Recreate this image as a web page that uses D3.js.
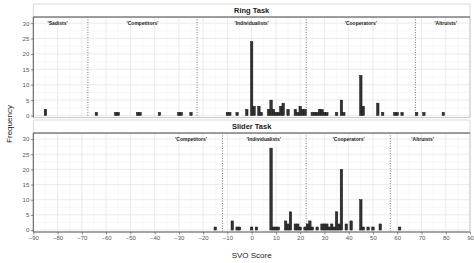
<!DOCTYPE html>
<html><head><meta charset="utf-8">
<script src="https://cdn.jsdelivr.net/npm/d3@7"></script>
<style>body{margin:0;background:#fff}svg{display:block;font-family:"Liberation Sans",Arial,sans-serif}</style>
</head><body><svg id="c" width="474" height="263"></svg>
<script>
// ---- data ----
const panels = ["Ring Task", "Slider Task"];
const ringScores = [-85,-64,-56,-55,-47,-46,-38,-30,-29,-25,-10,-9,-6,-2,0,1,3,4,7,8,9,10,11,12,13,15,18,19,20,21,22,25,26,27,28,29,30,31,35,37,38,45,46,52,54,59,60,62,68,71,79];
const ringCounts = [2,1,1,1,1,1,1,1,1,1,1,1,1,2,24,3,3,1,2,5,2,1,1,3,4,2,2,1,3,2,2,1,1,1,2,2,1,1,1,5,1,13,3,4,1,1,1,1,1,1,1];
const sliderScores = [-15,-8,-6,-5,0,2,8,9,10,11,14,15,16,18,19,20,22,23,24,25,27,29,30,31,32,33,34,35,36,37,39,41,45,46,48,50,53,61];
const sliderCounts = [1,3,1,1,1,1,27,1,1,1,3,2,6,2,2,1,1,2,3,1,1,2,2,2,1,2,1,6,2,20,2,3,10,1,1,1,2,1];
const ringCuts = [-67.5, -22.5, 22.5, 67.5];
const sliderCuts = [-12.04, 22.45, 57.15];
const ringLabels = ["'Sadists'", "'Competitors'", "'Individualists'", "'Cooperators'", "'Altruists'"];
const ringLabelPos = [-80, -45, 0, 45, 80];
const sliderLabels = ["'Competitors'", "'Individualists'", "'Cooperators'", "'Altruists'"];
const sliderLabelPos = [-25, 5, 40, 70.5];
const xTicks = d3.range(-90, 91, 10);
const yTicks = [0, 5, 10, 15, 20, 25, 30];

const svg = d3.select("#c");
const L = 33.3, R = 470;
const x = d3.scaleLinear().domain([-90, 90]).range([L, R]);

const defs = [
  {name: panels[0], scores: ringScores, counts: ringCounts, cuts: ringCuts, labels: ringLabels, lpos: ringLabelPos, stripTop: 4, top: 17, bottom: 117.5},
  {name: panels[1], scores: sliderScores, counts: sliderCounts, cuts: sliderCuts, labels: sliderLabels, lpos: sliderLabelPos, stripTop: 120, top: 133, bottom: 232}
];

defs.forEach((p, i) => {
  const y = d3.scaleLinear().domain([-0.65, 32]).range([p.bottom, p.top]);
  const g = svg.append("g");
  // panel background
  g.append("rect").attr("x", L).attr("y", p.top).attr("width", R - L).attr("height", p.bottom - p.top).attr("fill", "#fff");
  // minor grid
  g.selectAll(".mx").data(d3.range(-85, 90, 10)).join("line")
    .attr("x1", d => x(d)).attr("x2", d => x(d)).attr("y1", p.top).attr("y2", p.bottom)
    .attr("stroke", "#f3f3f3").attr("stroke-width", 0.6);
  g.selectAll(".my").data(d3.range(2.5, 32, 5)).join("line")
    .attr("x1", L).attr("x2", R).attr("y1", d => y(d)).attr("y2", d => y(d))
    .attr("stroke", "#f3f3f3").attr("stroke-width", 0.6);
  // major grid
  g.selectAll(".gx").data(xTicks).join("line")
    .attr("x1", d => x(d)).attr("x2", d => x(d)).attr("y1", p.top).attr("y2", p.bottom)
    .attr("stroke", "#e6e6e6").attr("stroke-width", 0.8);
  g.selectAll(".gy").data(yTicks).join("line")
    .attr("x1", L).attr("x2", R).attr("y1", d => y(d)).attr("y2", d => y(d))
    .attr("stroke", "#e6e6e6").attr("stroke-width", 0.8);
  // cut lines
  g.selectAll(".cut").data(p.cuts).join("line")
    .attr("x1", d => x(d)).attr("x2", d => x(d)).attr("y1", p.top).attr("y2", p.bottom)
    .attr("stroke", "#555").attr("stroke-width", 0.8).attr("stroke-dasharray", "1,1.5");
  // bars
  const data = p.scores.map((s, k) => ({s, c: p.counts[k]}));
  g.selectAll(".bar").data(data).join("rect")
    .attr("x", d => x(d.s - 0.5)).attr("width", x(0.5) - x(-0.5))
    .attr("y", d => y(d.c)).attr("height", d => y(0) - y(d.c))
    .attr("fill", "#333").attr("stroke", "#111").attr("stroke-width", 0.5);
  // category labels
  g.selectAll(".lab").data(p.labels).join("text")
    .attr("x", (d, k) => x(p.lpos[k])).attr("y", y(30)).attr("dy", "0.35em")
    .attr("text-anchor", "middle").attr("font-size", 5).attr("font-weight", "bold").attr("fill", "#222")
    .text(d => d);
  // panel border
  g.append("rect").attr("x", L).attr("y", p.top).attr("width", R - L).attr("height", p.bottom - p.top)
    .attr("fill", "none").attr("stroke", "#bdbdbd").attr("stroke-width", 0.8);
  // strip
  g.append("rect").attr("x", L).attr("y", p.stripTop).attr("width", R - L).attr("height", p.top - p.stripTop)
    .attr("fill", "#fff").attr("stroke", "#cfcfcf").attr("stroke-width", 0.8);
  g.append("line").attr("x1", L).attr("x2", R).attr("y1", p.top).attr("y2", p.top)
    .attr("stroke", "#555").attr("stroke-width", 1.2);
  g.append("text").attr("x", (L + R) / 2).attr("y", (p.stripTop + p.top) / 2).attr("dy", "0.35em")
    .attr("text-anchor", "middle").attr("font-size", 7.5).attr("font-weight", "bold").attr("fill", "#1a1a1a")
    .text(p.name);
  // y axis
  const ya = g.append("g").attr("transform", `translate(${L},0)`)
    .call(d3.axisLeft(y).tickValues(yTicks).tickSize(2.5).tickPadding(1.5));
  ya.select(".domain").attr("stroke", "#444").attr("stroke-width", 0.8).attr("d", `M0,${p.top}V${p.bottom}`);
  ya.selectAll(".tick line").attr("stroke", "#444").attr("stroke-width", 0.6);
  ya.selectAll("text").attr("font-size", 6).attr("fill", "#555").attr("font-family", "Liberation Sans, Arial, sans-serif");
  if (i === 1) {
    const xa = g.append("g").attr("transform", `translate(0,${p.bottom})`)
      .call(d3.axisBottom(x).tickValues(xTicks).tickSize(2.5).tickPadding(1.5));
    xa.select(".domain").attr("stroke", "#444").attr("stroke-width", 0.8).attr("d", `M${L},0H${R}`);
    xa.selectAll(".tick line").attr("stroke", "#444").attr("stroke-width", 0.6);
    xa.selectAll("text").attr("font-size", 6).attr("fill", "#555").attr("font-family", "Liberation Sans, Arial, sans-serif");
  }
});

svg.append("text").attr("x", (L + R) / 2).attr("y", 255).attr("dy", "0.35em")
  .attr("text-anchor", "middle").attr("font-size", 8).attr("fill", "#222").text("SVO Score");
svg.append("text").attr("transform", "translate(9,124) rotate(-90)").attr("dy", "0.35em")
  .attr("text-anchor", "middle").attr("font-size", 8).attr("fill", "#222").text("Frequency");
</script></body></html>
